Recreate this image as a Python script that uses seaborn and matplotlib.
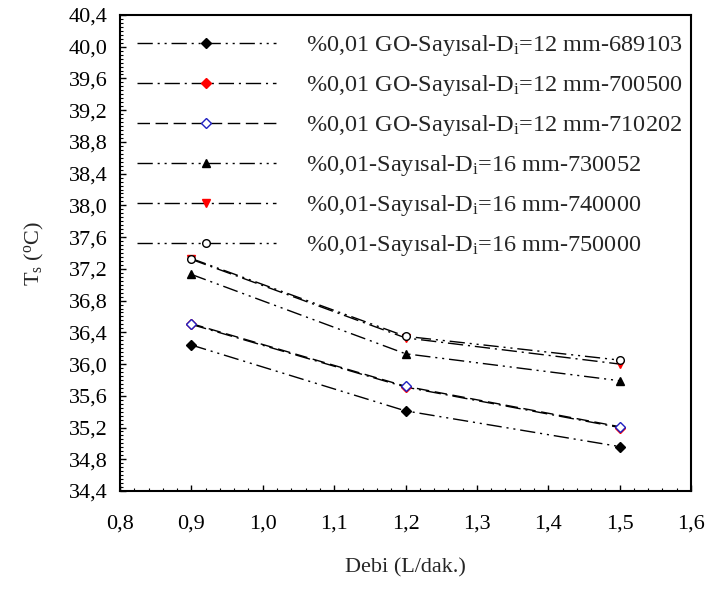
import numpy as np
import pandas as pd
import matplotlib
matplotlib.use("Agg")
import matplotlib.pyplot as plt
from matplotlib.ticker import MultipleLocator, AutoMinorLocator, FuncFormatter
import seaborn as sns

# ----- data -----
debi = [0.9, 1.2, 1.5]
labels = [
    "%0,01 GO-Sayısal-D$_{\\rm i}$=12 mm-689103",
    "%0,01 GO-Sayısal-D$_{\\rm i}$=12 mm-700500",
    "%0,01 GO-Sayısal-D$_{\\rm i}$=12 mm-710202",
    "%0,01-Sayısal-D$_{\\rm i}$=16 mm-730052",
    "%0,01-Sayısal-D$_{\\rm i}$=16 mm-740000",
    "%0,01-Sayısal-D$_{\\rm i}$=16 mm-750000",
]
ts_689103 = [36.24, 35.41, 34.96]
ts_700500 = [36.50, 35.71, 35.20]
ts_710202 = [36.51, 35.72, 35.21]
ts_730052 = [37.13, 36.13, 35.79]
ts_740000 = [37.32, 36.33, 36.00]
ts_750000 = [37.33, 36.35, 36.05]
# ----------------------------------------

series = [ts_689103, ts_700500, ts_710202, ts_730052, ts_740000, ts_750000]

dash_dot_dot = (0, (11, 3.5, 1.5, 3.5, 1.5, 3.5))
dash_dot = (0, (11, 3.5, 1.5, 3.5))
dashed = (0, (9, 4))

styles = [
    dict(marker="D", ms=5, mfc="black", mec="black", ls=dash_dot_dot),
    dict(marker="D", ms=5, mfc="red", mec="red", ls=dash_dot),
    dict(marker="D", ms=5, mfc="white", mec="#2020c0", ls=dashed),
    dict(marker="^", ms=6, mfc="black", mec="black", ls=dash_dot_dot),
    dict(marker="v", ms=6, mfc="red", mec="red", ls=dash_dot),
    dict(marker="o", ms=5.5, mfc="white", mec="black", ls=dash_dot_dot),
]

sns.set_style("ticks")
plt.rcParams["font.family"] = ["Liberation Serif", "DejaVu Serif"]
plt.rcParams["mathtext.fontset"] = "custom"
plt.rcParams["mathtext.rm"] = "Liberation Serif"
plt.rcParams["mathtext.it"] = "Liberation Serif:italic"

fig = plt.figure(figsize=(7.08, 5.90), dpi=100)
ax = fig.add_axes([0.1695, 0.1678, 0.8065, 0.8068])

for vals, lab, st in zip(series, labels, styles):
    df = pd.DataFrame({"Debi": debi, "Ts": vals})
    sns.lineplot(data=df, x="Debi", y="Ts", ax=ax, color="black", linewidth=1.0,
                 linestyle=st["ls"], marker=st["marker"], markersize=st["ms"],
                 markerfacecolor=st["mfc"], markeredgecolor=st["mec"],
                 markeredgewidth=1.0, label=lab)

ax.set_xlim(0.8, 1.6)
ax.set_ylim(34.4, 40.4)
ax.xaxis.set_major_locator(MultipleLocator(0.1))
ax.xaxis.set_minor_locator(AutoMinorLocator(5))
ax.yaxis.set_major_locator(MultipleLocator(0.4))
ax.yaxis.set_minor_locator(AutoMinorLocator(8))
comma = FuncFormatter(lambda v, p: f"{v:.1f}".replace(".", ","))
ax.xaxis.set_major_formatter(comma)
ax.yaxis.set_major_formatter(comma)

ax.tick_params(which="both", direction="in", top=False, right=False, colors="black",
               labelsize=16)
ax.tick_params(axis="x", which="major", length=4, width=1, pad=17)
ax.tick_params(axis="y", which="major", length=4, width=1, pad=9)
ax.tick_params(which="minor", length=2, width=0.8)
for sp in ax.spines.values():
    sp.set_linewidth(1.5)
    sp.set_color("black")

ax.set_xlabel("Debi (L/dak.)", fontsize=16, labelpad=18)
ax.set_ylabel("T$_{\\rm s}$ ($^{\\rm o}$C)", fontsize=16, labelpad=16)

ax.legend(loc="upper left", bbox_to_anchor=(0.03, 0.962), frameon=False,
          fontsize=17.5, handlelength=5.7, handletextpad=1.25, labelspacing=0.62,
          borderpad=0, borderaxespad=0)

fig.savefig("out.png", dpi=100)
